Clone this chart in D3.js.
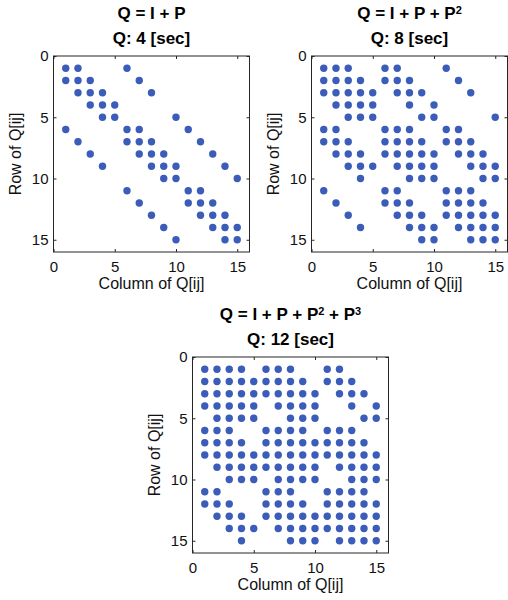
<!DOCTYPE html>
<html>
<head>
<meta charset="utf-8">
<script src="https://cdn.jsdelivr.net/npm/d3@7"></script>
<style>
  body { margin: 0; background: #fff; }
  svg { display: block; font-family: "Liberation Sans", Arial, sans-serif; }
</style>
</head>
<body>
<svg id="chart" width="508" height="600"></svg>
<script>
/* ---------------------------------------------------
   Data
--------------------------------------------------- */

const tickValues = [0, 5, 10, 15];
const xLabel = "Column of Q[ij]";
const yLabel = "Row of Q[ij]";

const titles = ["Q = I + P", "Q = I + P + P^2", "Q = I + P + P^2 + P^3"];
const subtitles = ["Q: 4 [sec]", "Q: 8 [sec]", "Q: 12 [sec]"];

// non-zero columns of each row (rows 1..15)
const nzIP = [
  [1, 2, 6],
  [1, 2, 3, 7],
  [2, 3, 4, 8],
  [3, 4, 5],
  [4, 5, 10],
  [1, 6, 7, 11],
  [2, 6, 7, 8, 12],
  [3, 7, 8, 9, 13],
  [4, 8, 9, 10, 14],
  [9, 10, 15],
  [6, 11, 12],
  [7, 11, 12, 13],
  [8, 12, 13, 14],
  [9, 13, 14, 15],
  [10, 14, 15]
];

const nzIP2 = [
  [1, 2, 3, 6, 7, 11],
  [1, 2, 3, 4, 6, 7, 8, 12],
  [1, 2, 3, 4, 5, 7, 8, 9, 13],
  [2, 3, 4, 5, 8, 10],
  [3, 4, 5, 9, 10, 15],
  [1, 2, 6, 7, 8, 11, 12],
  [1, 2, 3, 6, 7, 8, 9, 11, 12, 13],
  [2, 3, 4, 6, 7, 8, 9, 10, 12, 13, 14],
  [3, 4, 5, 7, 8, 9, 10, 13, 14, 15],
  [4, 8, 9, 10, 14, 15],
  [1, 6, 7, 11, 12, 13],
  [2, 6, 7, 8, 11, 12, 13, 14],
  [3, 7, 8, 9, 11, 12, 13, 14, 15],
  [4, 8, 9, 10, 12, 13, 14, 15],
  [9, 10, 13, 14, 15]
];

const nzIP3 = [
  [1, 2, 3, 4, 6, 7, 8, 11, 12],
  [1, 2, 3, 4, 5, 6, 7, 8, 9, 11, 12, 13],
  [1, 2, 3, 4, 5, 6, 7, 8, 9, 10, 12, 13, 14],
  [1, 2, 3, 4, 5, 7, 8, 9, 10, 13, 15],
  [2, 3, 4, 5, 8, 9, 10, 14, 15],
  [1, 2, 3, 6, 7, 8, 9, 11, 12, 13],
  [1, 2, 3, 4, 6, 7, 8, 9, 10, 11, 12, 13, 14],
  [1, 2, 3, 4, 5, 6, 7, 8, 9, 10, 11, 12, 13, 14, 15],
  [2, 3, 4, 5, 6, 7, 8, 9, 10, 12, 13, 14, 15],
  [3, 4, 5, 7, 8, 9, 10, 13, 14, 15],
  [1, 2, 6, 7, 8, 11, 12, 13, 14],
  [1, 2, 3, 6, 7, 8, 9, 11, 12, 13, 14, 15],
  [2, 3, 4, 6, 7, 8, 9, 10, 11, 12, 13, 14, 15],
  [3, 4, 5, 7, 8, 9, 10, 11, 12, 13, 14, 15],
  [4, 8, 9, 10, 12, 13, 14, 15]
];

/* ---------------------------------------------------
   Setup
--------------------------------------------------- */

const svg = d3.select("#chart");
const dotColour = "#3b5cb8";
const axisColour = "#262626";
const size = 196;

const panels = [
  { left: 53.5, top: 56, rows: nzIP },
  { left: 311.5, top: 56, rows: nzIP2 },
  { left: 192.5, top: 357, rows: nzIP3 }
];

function addTitle(sel, str) {
  // "P^2" -> P with a raised 2, next piece drops back to the baseline
  let shift = 0;
  str.split(/(\^\d)/).forEach(part => {
    if (!part) return;
    if (part.startsWith("^")) {
      sel.append("tspan").attr("font-size", 11).attr("dy", -5).text(part.slice(1));
      shift = 5;
    } else {
      sel.append("tspan").attr("dy", shift).text(part);
      shift = 0;
    }
  });
}

/* ---------------------------------------------------
   Panels
--------------------------------------------------- */

panels.forEach((p, k) => {
  const g = svg.append("g").attr("transform", `translate(${p.left},${p.top})`);

  const x = d3.scaleLinear().domain([0, 16]).range([0, size]);
  const y = d3.scaleLinear().domain([0, 16]).range([0, size]);

  const points = [];
  p.rows.forEach((cols, r) => cols.forEach(c => points.push({ row: r + 1, col: c })));

  g.selectAll("circle")
    .data(points)
    .join("circle")
    .attr("cx", d => x(d.col))
    .attr("cy", d => y(d.row))
    .attr("r", 3.7)
    .attr("fill", dotColour);

  // axes with inward ticks
  const bottom = g.append("g").attr("transform", `translate(0,${size})`)
    .call(d3.axisBottom(x).tickValues(tickValues).tickSizeInner(-3).tickSizeOuter(0).tickPadding(9));
  const left = g.append("g")
    .call(d3.axisLeft(y).tickValues(tickValues).tickSizeInner(-3).tickSizeOuter(0).tickPadding(5));
  const top = g.append("g")
    .call(d3.axisTop(x).tickValues(tickValues).tickSizeInner(-3).tickSizeOuter(0));
  const right = g.append("g").attr("transform", `translate(${size},0)`)
    .call(d3.axisRight(y).tickValues(tickValues).tickSizeInner(-3).tickSizeOuter(0));

  top.selectAll("text").remove();
  right.selectAll("text").remove();
  [bottom, left, top, right].forEach(a => {
    a.select(".domain").remove();
    a.selectAll("line").attr("stroke", axisColour);
    a.selectAll("text").attr("font-size", 15).attr("fill", "#111")
      .attr("font-family", "'Liberation Sans', Arial, sans-serif");
  });

  g.append("rect")
    .attr("width", size)
    .attr("height", size)
    .attr("fill", "none")
    .attr("stroke", axisColour)
    .attr("stroke-width", 1);

  // labels
  g.append("text")
    .attr("x", size / 2)
    .attr("y", size + 37)
    .attr("text-anchor", "middle")
    .attr("font-size", 16)
    .attr("fill", "#111")
    .text(xLabel);

  g.append("text")
    .attr("transform", `translate(-33,${size / 2}) rotate(-90)`)
    .attr("text-anchor", "middle")
    .attr("font-size", 16)
    .attr("fill", "#111")
    .text(yLabel);

  const t1 = g.append("text")
    .attr("x", size / 2)
    .attr("y", -37)
    .attr("text-anchor", "middle")
    .attr("font-size", 17)
    .attr("font-weight", "bold")
    .attr("fill", "#000");
  addTitle(t1, titles[k]);

  g.append("text")
    .attr("x", size / 2)
    .attr("y", -12)
    .attr("text-anchor", "middle")
    .attr("font-size", 17)
    .attr("font-weight", "bold")
    .attr("fill", "#000")
    .text(subtitles[k]);
});
</script>
</body>
</html>
